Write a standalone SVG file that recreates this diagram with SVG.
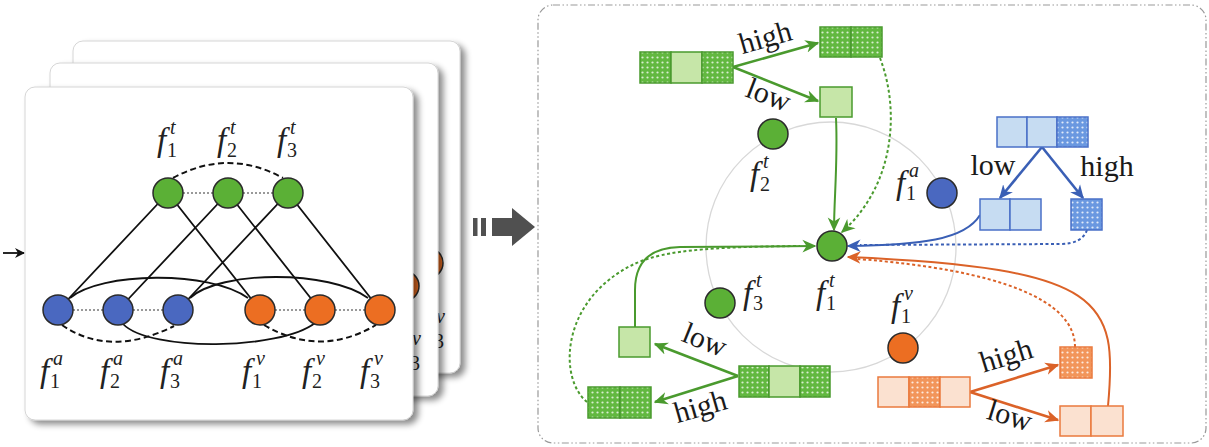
<svg xmlns="http://www.w3.org/2000/svg" width="1209" height="447" viewBox="0 0 1209 447">
<style>
.card{fill:#fff;stroke:#ccc;stroke-width:0.8;filter:url(#shadow)}
.nd{stroke:#2b2b2b;stroke-width:1.5}
.g{fill:#5bb036}.b{fill:#4a68c0}.o{fill:#ec6e22}
.f{font-family:"Liberation Serif",serif;font-style:italic;font-size:33px;fill:#222}
.sub{font-family:"Liberation Serif",serif;font-size:20px;fill:#222}
.sup{font-family:"Liberation Serif",serif;font-style:italic;font-size:20px;fill:#222}
.lbl{font-family:"Liberation Serif",serif;font-size:30px;fill:#1a1a1a}
.blk{fill:none;stroke:#111;stroke-width:1.8}
.dash{fill:none;stroke:#111;stroke-width:2;stroke-dasharray:6 3.5}
.dot{fill:none;stroke:#999;stroke-width:2;stroke-dasharray:2 2}
.ag{fill:none;stroke:#4a9a2e;stroke-width:2.6}
.ab{fill:none;stroke:#3a5fb5;stroke-width:2.6}
.ao{fill:none;stroke:#db6228;stroke-width:2.6}
.cg{fill:none;stroke:#4a9a2e;stroke-width:2}
.cb{fill:none;stroke:#3a5fb5;stroke-width:2}
.co{fill:none;stroke:#db6228;stroke-width:2}
.dt{stroke-dasharray:3 2.5}
.lg{fill:#c6e6a8;stroke:#4a9a2e;stroke-width:1.5}
.dg{fill:url(#dots-g);stroke:#4a9a2e;stroke-width:1.5}
.lb{fill:#c6dcf2;stroke:#4a70c8;stroke-width:1.5}
.db{fill:url(#dots-b);stroke:#4a70c8;stroke-width:1.5}
.lo{fill:#fbe1d0;stroke:#ea7a3e;stroke-width:1.5}
.do{fill:url(#dots-o);stroke:#ea7a3e;stroke-width:1.5}
</style>
<defs>
<filter id="shadow" x="-5%" y="-5%" width="115%" height="115%"><feDropShadow dx="5" dy="4" stdDeviation="3" flood-color="#000" flood-opacity="0.45"/></filter>
<pattern id="dots-g" width="5" height="5" patternUnits="userSpaceOnUse"><rect width="5" height="5" fill="#62b840"/><circle cx="2.5" cy="2.5" r="1.1" fill="#fff" fill-opacity="0.75"/></pattern>
<pattern id="dots-b" width="5" height="5" patternUnits="userSpaceOnUse"><rect width="5" height="5" fill="#6a98e0"/><circle cx="2.5" cy="2.5" r="1.1" fill="#fff" fill-opacity="0.8"/></pattern>
<pattern id="dots-o" width="5" height="5" patternUnits="userSpaceOnUse"><rect width="5" height="5" fill="#f2955a"/><circle cx="2.5" cy="2.5" r="1.1" fill="#fff" fill-opacity="0.8"/></pattern>
<marker id="ah-k" viewBox="0 0 10 10" refX="9" refY="5" markerWidth="10" markerHeight="10" markerUnits="userSpaceOnUse" orient="auto"><path d="M0,0 L10,5 L0,10 L3,5 z" fill="#111"/></marker>
<marker id="ah-g" viewBox="0 0 10 10" refX="9" refY="5" markerWidth="14" markerHeight="14" markerUnits="userSpaceOnUse" orient="auto"><path d="M0,0.5 L10,5 L0,9.5 L3,5 z" fill="#4a9a2e"/></marker>
<marker id="ah-b" viewBox="0 0 10 10" refX="9" refY="5" markerWidth="14" markerHeight="14" markerUnits="userSpaceOnUse" orient="auto"><path d="M0,0.5 L10,5 L0,9.5 L3,5 z" fill="#3a5fb5"/></marker>
<marker id="ah-o" viewBox="0 0 10 10" refX="9" refY="5" markerWidth="14" markerHeight="14" markerUnits="userSpaceOnUse" orient="auto"><path d="M0,0.5 L10,5 L0,9.5 L3,5 z" fill="#db6228"/></marker>
</defs>

<!-- small input arrow -->
<g id="input-arrow"><path class="blk" d="M3,253 L24,253" marker-end="url(#ah-k)"/></g>

<!-- card stack (back cards: only their right-hand sliver is visible) -->
<g id="card-back">
<rect class="card" x="73" y="41" width="387" height="332" rx="10"/>
<circle class="nd o" cx="428" cy="263" r="15"/>
<text class="sub" x="434" y="348">3</text>
<text class="sup" x="436" y="323">v</text>
</g>
<g id="card-mid">
<rect class="card" x="50" y="63" width="388" height="333" rx="10"/>
<circle class="nd o" cx="404" cy="286" r="15"/>
<text class="sub" x="410" y="370">3</text>
<text class="sup" x="412" y="345">v</text>
</g>
<g id="card-front"><rect class="card" x="25" y="87" width="388" height="333" rx="10"/></g>

<!-- big arrow -->
<g id="big-arrow" fill="#505050">
<rect x="473" y="218" width="4.5" height="18"/>
<rect x="481" y="218" width="5" height="18"/>
<rect x="492" y="218" width="21" height="18"/>
<path d="M512,208 L535,227 L512,246 z"/>
</g>

<!-- right frame -->
<g id="frame"><rect x="538" y="5" width="668" height="438" rx="15" fill="#fff" stroke="#999" stroke-width="1.2" stroke-dasharray="7 2.5 1.5 2.5 1.5 2.5"/></g>
<g id="neighborhood"><circle cx="831" cy="247" r="125" fill="none" stroke="#d8d8d8" stroke-width="1.3"/></g>

<g id="connectors">
<!-- left card edges -->
<path class="dot" d="M183,193 L213,193 M243,193 L273,193"/>
<path class="dot" d="M73,310 L103,310 M133,310 L163,310 M275,310 L305,310 M335,310 L365,310"/>
<path class="dash" d="M173,178 Q228,148 283,178"/>
<path class="blk" d="M168,193 L58,310 M168,193 L260,310 M228,193 L118,310 M228,193 L320,310 M288,193 L178,310 M288,193 L380,310"/>
<path class="blk" d="M70,298 C100,272 210,270 248,298"/>
<path class="blk" d="M190,298 C220,270 330,270 368,298"/>
<path class="blk" d="M123,324 C150,352 280,350 315,323"/>
<path class="dash" d="M62,325 Q110,358 174,326"/>
<path class="dash" d="M264,325 Q320,358 376,325"/>

<!-- green top group -->
<path class="ag" d="M733,67 L818,43" marker-end="url(#ah-g)"/>
<path class="ag" d="M733,67 L818,101" marker-end="url(#ah-g)"/>
<path class="cg" d="M836,118 C838,160 834,200 834,230" marker-end="url(#ah-g)"/>
<path class="cg dt" d="M880,58 C900,110 895,185 842,232" marker-end="url(#ah-g)"/>
<!-- blue group -->
<path class="ab" d="M1042,147 L1000,198" marker-end="url(#ah-b)"/>
<path class="ab" d="M1042,147 L1083,198" marker-end="url(#ah-b)"/>
<path class="cb" d="M980,215 C965,240 920,245 848,246" marker-end="url(#ah-b)"/>
<path class="cb dt" d="M1087,230 Q1082,244 1060,244 L860,245"/>
<!-- orange group -->
<path class="ao" d="M970,392 L1058,365" marker-end="url(#ah-o)"/>
<path class="ao" d="M970,392 L1058,420" marker-end="url(#ah-o)"/>
<path class="co" d="M1108,406 C1118,300 1105,268 848,257" marker-end="url(#ah-o)"/>
<path class="co dt" d="M1075,347 C1075,300 1000,270 858,259"/>
<!-- green bottom group -->
<path class="ag" d="M738,376 L655,344" marker-end="url(#ah-g)"/>
<path class="ag" d="M738,376 L655,402" marker-end="url(#ah-g)"/>
<path class="cg" d="M635,327 L635,290 Q635,248 680,247 L815,246" marker-end="url(#ah-g)"/>
<path class="cg dt" d="M587,402 C560,380 560,310 620,272 C650,252 690,247 800,246"/>
</g>

<!-- left card nodes -->
<g id="l-f1t"><circle class="nd g" cx="168" cy="193" r="15"/><text><tspan class="f" x="157" y="151">f</tspan><tspan class="sub" x="167" y="157">1</tspan><tspan class="sup" x="170" y="134">t</tspan></text></g>
<g id="l-f2t"><circle class="nd g" cx="228" cy="193" r="15"/><text><tspan class="f" x="217" y="151">f</tspan><tspan class="sub" x="227" y="157">2</tspan><tspan class="sup" x="230" y="134">t</tspan></text></g>
<g id="l-f3t"><circle class="nd g" cx="288" cy="193" r="15"/><text><tspan class="f" x="277" y="151">f</tspan><tspan class="sub" x="287" y="157">3</tspan><tspan class="sup" x="290" y="134">t</tspan></text></g>
<g id="l-f1a"><circle class="nd b" cx="58" cy="310" r="15"/><text><tspan class="f" x="40" y="382">f</tspan><tspan class="sub" x="50" y="388">1</tspan><tspan class="sup" x="53" y="365">a</tspan></text></g>
<g id="l-f2a"><circle class="nd b" cx="118" cy="310" r="15"/><text><tspan class="f" x="100" y="382">f</tspan><tspan class="sub" x="110" y="388">2</tspan><tspan class="sup" x="113" y="365">a</tspan></text></g>
<g id="l-f3a"><circle class="nd b" cx="178" cy="310" r="15"/><text><tspan class="f" x="160" y="382">f</tspan><tspan class="sub" x="170" y="388">3</tspan><tspan class="sup" x="173" y="365">a</tspan></text></g>
<g id="l-f1v"><circle class="nd o" cx="260" cy="310" r="15"/><text><tspan class="f" x="242" y="382">f</tspan><tspan class="sub" x="252" y="388">1</tspan><tspan class="sup" x="256" y="365">v</tspan></text></g>
<g id="l-f2v"><circle class="nd o" cx="320" cy="310" r="15"/><text><tspan class="f" x="302" y="382">f</tspan><tspan class="sub" x="312" y="388">2</tspan><tspan class="sup" x="316" y="365">v</tspan></text></g>
<g id="l-f3v"><circle class="nd o" cx="380" cy="310" r="15"/><text><tspan class="f" x="360" y="382">f</tspan><tspan class="sub" x="370" y="388">3</tspan><tspan class="sup" x="374" y="365">v</tspan></text></g>

<!-- right panel nodes -->
<g id="r-f2t"><circle class="nd g" cx="773" cy="134" r="15"/><text><tspan class="f" x="750" y="185">f</tspan><tspan class="sub" x="760" y="191">2</tspan><tspan class="sup" x="763" y="168">t</tspan></text></g>
<g id="r-f1a"><circle class="nd b" cx="942" cy="193" r="15"/><text><tspan class="f" x="896" y="194">f</tspan><tspan class="sub" x="906" y="200">1</tspan><tspan class="sup" x="909" y="177">a</tspan></text></g>
<g id="r-f1t"><circle class="nd g" cx="832" cy="246" r="15"/><text><tspan class="f" x="816" y="304">f</tspan><tspan class="sub" x="826" y="310">1</tspan><tspan class="sup" x="829" y="287">t</tspan></text></g>
<g id="r-f3t"><circle class="nd g" cx="720" cy="303" r="15"/><text><tspan class="f" x="743" y="304">f</tspan><tspan class="sub" x="753" y="310">3</tspan><tspan class="sup" x="756" y="287">t</tspan></text></g>
<g id="r-f1v"><circle class="nd o" cx="903" cy="348" r="15"/><text><tspan class="f" x="891" y="317">f</tspan><tspan class="sub" x="901" y="323">1</tspan><tspan class="sup" x="904" y="300">v</tspan></text></g>

<!-- green top group -->
<g id="gt-src"><rect class="dg" x="640" y="52" width="31" height="31"/><rect class="lg" x="671" y="52" width="31" height="31"/><rect class="dg" x="702" y="52" width="31" height="31"/></g>
<g id="gt-high"><rect class="dg" x="820" y="27" width="31" height="30"/><rect class="dg" x="851" y="27" width="31" height="30"/></g>
<g id="gt-low"><rect class="lg" x="820" y="87" width="32" height="30"/></g>
<text class="lbl" x="768" y="47" text-anchor="middle" transform="rotate(-16 768 47)">high</text>
<text class="lbl" x="765" y="104" text-anchor="middle" transform="rotate(21 765 104)">low</text>

<!-- blue group -->
<g id="b-src"><rect class="lb" x="997" y="117" width="30" height="30"/><rect class="lb" x="1027" y="117" width="30" height="30"/><rect class="db" x="1057" y="117" width="31" height="30"/></g>
<g id="b-low"><rect class="lb" x="980" y="199" width="30" height="31"/><rect class="lb" x="1010" y="199" width="31" height="31"/></g>
<g id="b-high"><rect class="db" x="1071" y="199" width="31" height="31"/></g>
<text class="lbl" x="993" y="175" text-anchor="middle">low</text>
<text class="lbl" x="1107" y="176" text-anchor="middle">high</text>

<!-- orange group -->
<g id="o-src"><rect class="lo" x="878" y="377" width="31" height="30"/><rect class="do" x="909" y="377" width="31" height="30"/><rect class="lo" x="940" y="377" width="30" height="30"/></g>
<g id="o-high"><rect class="do" x="1060" y="347" width="32" height="31"/></g>
<g id="o-low"><rect class="lo" x="1060" y="406" width="31" height="30"/><rect class="lo" x="1091" y="406" width="32" height="30"/></g>
<text class="lbl" x="1009" y="365" text-anchor="middle" transform="rotate(-17 1009 365)">high</text>
<text class="lbl" x="1007" y="425" text-anchor="middle" transform="rotate(17 1007 425)">low</text>

<!-- green bottom group -->
<g id="gb-src"><rect class="dg" x="739" y="366" width="30" height="31"/><rect class="lg" x="769" y="366" width="31" height="31"/><rect class="dg" x="800" y="366" width="30" height="31"/></g>
<g id="gb-low"><rect class="lg" x="619" y="327" width="31" height="30"/></g>
<g id="gb-high"><rect class="dg" x="588" y="387" width="32" height="31"/><rect class="dg" x="620" y="387" width="31" height="31"/></g>
<text class="lbl" x="701" y="349" text-anchor="middle" transform="rotate(22 701 349)">low</text>
<text class="lbl" x="703" y="416" text-anchor="middle" transform="rotate(-16 703 416)">high</text>
</svg>
